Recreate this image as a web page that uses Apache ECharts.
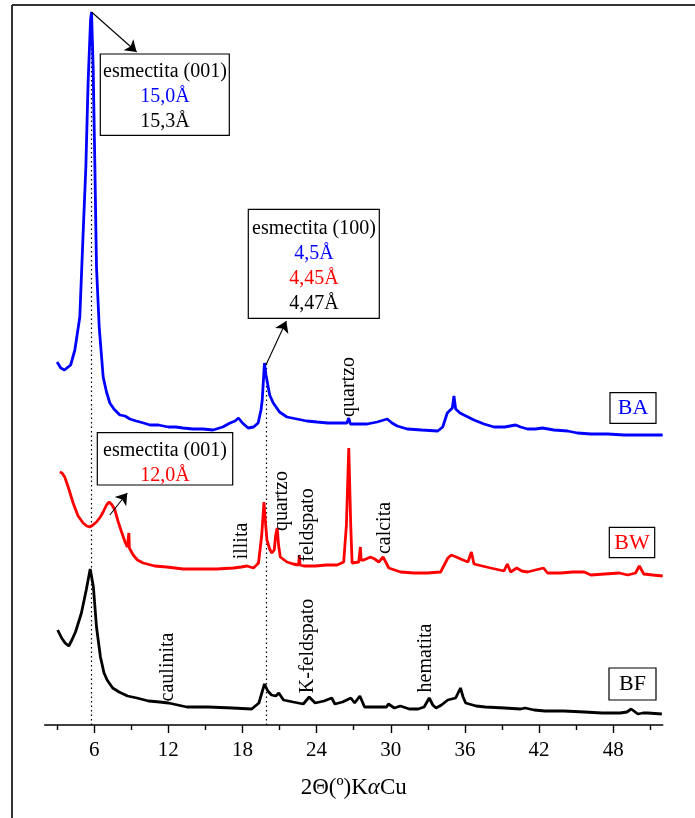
<!DOCTYPE html>
<html>
<head>
<meta charset="utf-8">
<script src="https://cdn.jsdelivr.net/npm/echarts@6/dist/echarts.min.js"></script>
<style>html,body{margin:0;padding:0;background:#fff}#c{width:695px;height:818px}</style>
</head>
<body>
<div id="c"></div>
<script>
// 2θ (deg) vs intensity (a.u., stacked with offsets)
const baData = [[3.00,363],[3.3,357],[3.6,355],[3.76,353],[4.1,360],[4.44,375],[4.84,408],[5.11,492],[5.33,558],[5.51,642],[5.71,705],[5.79,713],[5.92,658],[6.06,558],[6.19,458],[6.41,398],[6.73,348],[7.0,333],[7.27,322],[7.6,316],[8.08,310],[8.5,309],[8.89,306],[9.4,304],[10.0,302],[10.52,300],[11.2,300],[12.0,298],[12.6,298],[13.19,297],[14.0,296],[14.8,296],[15.62,295],[16.4,298],[17.0,302],[17.4,304],[17.68,307],[18.0,302],[18.46,297],[18.9,298],[19.27,302],[19.5,315],[19.6,325],[19.78,362],[19.9,350],[19.98,345],[20.2,330],[20.49,322],[21.0,313],[21.6,308],[22.4,306],[23.2,304],[24.03,303],[24.9,302],[25.92,302],[26.45,302],[26.6,307],[26.73,301],[27.4,301],[28.09,301],[28.9,303],[29.71,306],[30.1,302],[30.52,299],[31.33,296],[32.5,295],[33.8,294],[34.2,298],[34.57,312],[34.98,317],[35.11,329],[35.25,316],[35.6,312],[35.92,310],[36.73,305],[37.54,301],[38.35,298],[39.2,298],[40.11,300],[40.5,298],[41.06,296],[41.7,296],[42.28,297],[43.2,295],[44.3,294],[45.1,292],[46.2,291],[47.55,291],[48.87,290],[50.25,290],[51.2,290],[52.0,290]];
const bwData = [[3.22,253],[3.4,252],[3.62,248],[3.9,238],[4.3,222],[4.7,209],[5.11,202],[5.4,199],[5.65,198],[5.9,200],[6.19,203],[6.5,208],[6.73,213],[7.0,220],[7.22,223],[7.45,220],[7.68,215],[7.95,203],[8.22,193],[8.5,183],[8.68,178],[8.78,178],[8.81,192],[8.85,177],[9.16,170],[9.5,165],[9.97,162],[10.9,159],[11.87,158],[13.2,156],[14.57,156],[15.9,156],[17.27,157],[17.9,158],[18.36,159],[18.89,157],[19.3,162],[19.56,190],[19.74,223],[19.88,200],[19.98,185],[20.2,176],[20.38,172],[20.57,175],[20.69,190],[20.81,197],[20.92,180],[21.06,168],[21.6,163],[22.1,161],[22.54,160],[22.6,170],[22.66,160],[22.95,159],[23.9,159],[24.8,160],[25.66,160],[26.19,163],[26.41,200],[26.6,277],[26.76,200],[26.87,162],[27.41,163],[27.54,178],[27.6,165],[27.81,165],[28.36,168],[28.7,166],[29.03,163],[29.38,168],[29.84,157],[30.79,153],[31.9,152],[32.95,152],[34.03,153],[34.62,167],[34.9,170],[35.3,168],[35.65,166],[36.24,163],[36.52,173],[36.73,161],[37.4,159],[38.08,157],[39.16,154],[39.43,161],[39.7,153],[40.19,157],[40.6,154],[41.06,153],[41.7,155],[42.36,157],[42.68,152],[43.76,152],[44.7,153],[45.65,153],[46.19,150],[47.3,151],[48.49,152],[49.17,150],[49.8,152],[50.11,159],[50.47,151],[51.2,150],[52.0,149]];
const bfData = [[3.05,95],[3.37,87],[3.65,82],[3.95,79],[4.2,85],[4.49,93],[4.97,112],[5.36,135],[5.68,156],[5.94,138],[6.19,98],[6.51,68],[6.8,52],[7.05,45],[7.5,37],[8.02,33],[8.7,29],[9.46,27],[10.4,24],[11.3,23],[12.02,22],[13.5,18],[15.23,18],[17.2,17],[18.75,16],[19.33,22],[19.78,41],[20.05,34],[20.35,30],[20.7,29],[20.94,32],[21.32,25],[22.1,23],[22.92,21],[23.4,28],[23.88,22],[24.6,24],[25.22,27],[25.48,21],[26.1,23],[26.77,27],[27.08,22],[27.5,29],[27.88,18],[28.8,18],[29.65,18],[29.81,21],[30.29,17],[30.77,19],[31.5,16],[32.21,16],[32.7,18],[33.11,27],[33.4,20],[33.66,17],[34.1,20],[34.61,25],[35.25,27],[35.64,37],[35.85,28],[36.06,22],[36.9,19],[37.66,18],[39.2,17],[40.5,16],[40.87,17],[41.6,15],[42.47,14],[44.0,14],[45.67,13],[47.1,12],[48.56,12],[49.1,13],[49.45,16],[49.99,11],[50.4,12],[50.8,12],[51.93,11]];
const majorTicks = [6,12,18,24,30,36,42,48];
const minorTicks = [3,9,15,21,27,33,39,45,51];
const seriesNames = ['BA','BW','BF'];
const seriesColors = ['#0000ff','#ff0000','#000000'];

const FONT = "'Liberation Serif','Times New Roman',serif";
const chart = echarts.init(document.getElementById('c'), null, {renderer:'canvas'});

function txt(x, y, s, color, size, rot) {
  return {type:'text', x:x, y:y, rotation: rot || 0, z: 10,
    style:{text:s, fill:color || '#000', font: (size||20)+'px '+FONT, textAlign:'center', textVerticalAlign:'middle'}};
}
function box(x, y, w, h) {
  return {type:'rect', shape:{x:x, y:y, width:w, height:h}, z: 9,
    style:{fill:'#fff', stroke:'#000', lineWidth:1.2}};
}
const R = Math.PI/2;

const option = {
  animation:false,
  backgroundColor:'#fff',
  grid:{left:44.7, right:32.3, top:5, bottom:93, containLabel:false},
  xAxis:[{
    type:'value', min:2, max:52, position:'bottom',
    name:'2Θ(º)K{a|α}Cu', nameLocation:'middle', nameGap:51,
    nameTextStyle:{fontFamily:FONT, fontSize:23, color:'#000', rich:{a:{fontFamily:FONT, fontSize:23, fontStyle:'italic', color:'#000'}}},
    axisLine:{show:true, onZero:false, lineStyle:{color:'#000', width:1.6}},
    axisTick:{show:true, inside:false, length:8, customValues:majorTicks, lineStyle:{color:'#000', width:1.4}},
    axisLabel:{show:true, customValues:majorTicks, margin:15, fontFamily:FONT, fontSize:21, color:'#000'},
    splitLine:{show:false}
  },{
    type:'value', min:2, max:52, position:'bottom', gridIndex:0,
    axisLine:{show:false, onZero:false},
    axisTick:{show:true, inside:false, length:5, customValues:minorTicks, lineStyle:{color:'#000', width:1.4}},
    axisLabel:{show:false},
    splitLine:{show:false}
  }],
  yAxis:{type:'value', min:0, max:720, show:false},
  series:[
    {name:seriesNames[0], type:'line', data:baData, showSymbol:false, symbol:'none', z:3,
     lineStyle:{color:seriesColors[0], width:2.8}, xAxisIndex:0,
     markLine:{silent:true, symbol:'none', label:{show:false}, z:1,
       lineStyle:{type:[1.5,3], color:'#000', width:1.2},
       data:[[{coord:[5.79,0]},{coord:[5.79,713]}],[{coord:[19.9,0]},{coord:[19.9,362]}]]}},
    {name:seriesNames[1], type:'line', data:bwData, showSymbol:false, symbol:'none', z:3,
     lineStyle:{color:seriesColors[1], width:2.8}, xAxisIndex:0,
     markLine:{silent:true, symbol:['none','arrow'], symbolSize:11, label:{show:false}, z:12,
       itemStyle:{color:'#000'},
       lineStyle:{type:'solid', color:'#000', width:1.1},
       data:[[{coord:[5.79,713]},{coord:[9.44,673]}],[{coord:[19.9,360]},{coord:[21.55,404]}],[{coord:[7.27,210]},{coord:[8.68,232]}]]}},
    {name:seriesNames[2], type:'line', data:bfData, showSymbol:false, symbol:'none', z:3,
     lineStyle:{color:seriesColors[2], width:2.8}, xAxisIndex:0}
  ],
  graphic:[
    {type:'line', shape:{x1:12, y1:5, x2:695, y2:5}, style:{stroke:'#333', lineWidth:2}},
    {type:'line', shape:{x1:12, y1:5, x2:12, y2:818}, style:{stroke:'#333', lineWidth:2}},
    box(100.3,54,129,81.3),
    txt(165,72,'esmectita (001)','#000'),
    txt(165,97,'15,0Å','#0000ff'),
    txt(165,122,'15,3Å','#000'),
    box(248.3,209.3,131,109),
    txt(314,228.5,'esmectita (100)','#000'),
    txt(314,253.5,'4,5Å','#0000ff'),
    txt(314,279,'4,45Å','#ff0000'),
    txt(314,303.5,'4,47Å','#000'),
    box(97.3,432.7,135.4,52.3),
    txt(165,451,'esmectita (001)','#000'),
    txt(165,476,'12,0Å','#ff0000'),
    box(610,392.7,46,30.6), txt(633,408.5,'BA','#0000ff',22),
    box(609.3,527.3,45.4,30.4), txt(632,543,'BW','#ff0000',22),
    box(609,668,47,32), txt(632.5,684.5,'BF','#000',22),
    txt(349,387,'quartzo','#000',20,R),
    txt(242,541,'illita','#000',20,R),
    txt(282,501,'quartzo','#000',20,R),
    txt(307.5,525,'feldspato','#000',20,R),
    txt(385,528,'calcita','#000',20,R),
    txt(167.5,667,'caulinita','#000',20,R),
    txt(307.5,646,'K-feldspato','#000',20,R),
    txt(426,658,'hematita','#000',20,R)
  ]
};
chart.setOption(option);
</script>
</body>
</html>
